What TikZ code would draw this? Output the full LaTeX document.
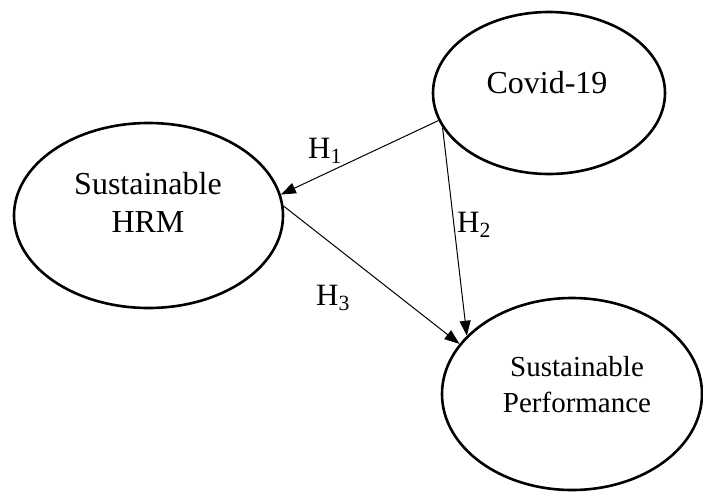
\documentclass[tikz,border=0pt]{standalone}
\usepackage{fontspec}
\setmainfont{Liberation Serif}
\usetikzlibrary{arrows.meta,shapes.geometric,calc}

\begin{document}
\begin{tikzpicture}[
  x=1pt, y=-1pt,
  >={Triangle[length=15pt,width=11pt]},
  construct/.style={draw, ellipse, line width=2.6pt, inner sep=0pt},
  caption/.style={align=center, inner sep=0pt, anchor=base,
                  font=\fontsize{32}{38}\selectfont},
  hypo/.style={inner sep=0pt, anchor=base, font=\fontsize{31}{37}\selectfont},
  link/.style={->, line width=1pt},
]
\useasboundingbox (0,0) rectangle (703,491);

% --- Constructs ---
\node[construct, minimum width=232pt, minimum height=162pt] (covid) at (549,93)   {};
\node[construct, minimum width=269pt, minimum height=185pt] (hrm)   at (148.5,215.5) {};
\node[construct, minimum width=260pt, minimum height=192pt] (perf)  at (572,394)  {};

% construct names sit a little above the centres (base = last line)
\node[caption] (covidtxt) at (547,93)  {Covid-19};
\node[caption] (hrmtxt)   at (148,232) {Sustainable\\HRM};
\node[caption, font=\fontsize{29}{36}\selectfont] (perftxt) at (577,412) {Sustainable\\Performance};

% --- Hypothesised paths ---
\draw[link] (covid.194) -- (hrm.9);
\draw[link] (covid.198) -- (perf.151);
\draw[link] (hrm.4)     -- (perf.156);

% path labels
\node[hypo] (h1) at (325,158) {H\textsubscript{1}};
\node[hypo] (h2) at (474,232) {H\textsubscript{2}};
\node[hypo] (h3) at (333,305) {H\textsubscript{3}};
\end{tikzpicture}
\end{document}
